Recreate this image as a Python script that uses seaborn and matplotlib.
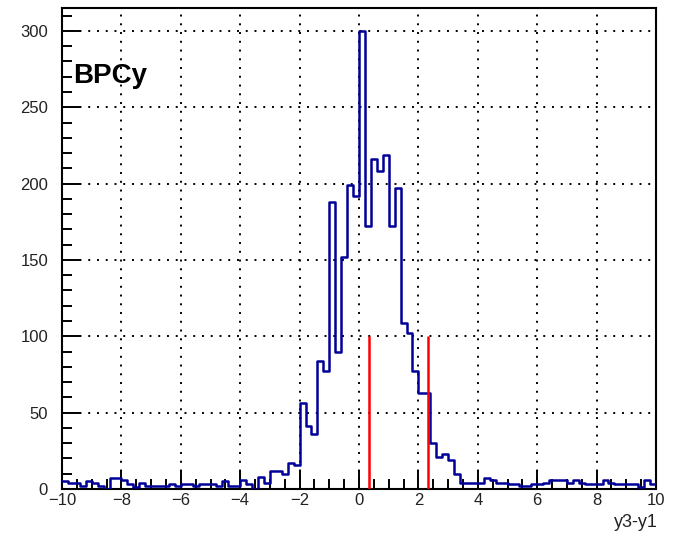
import numpy as np
import pandas as pd
import matplotlib
matplotlib.use("Agg")
import matplotlib.pyplot as plt
from matplotlib.ticker import MultipleLocator
import seaborn as sns

# Histogram of y3-y1: 100 bins of width 0.2 over [-10, 10]
bin_lo, bin_hi, n_bins = -10.0, 10.0, 100
counts = [
    5, 4, 4, 2, 5, 4, 2, 0, 7, 7,
    6, 3, 1, 4, 2, 2, 2, 2, 3, 2,
    3, 3, 2, 3, 3, 3, 2, 5, 2, 2,
    6, 3, 0, 8, 4, 12, 12, 10, 17, 16,
    56, 41, 36, 84, 77, 188, 90, 152, 199, 192,
    300, 172, 216, 208, 219, 172, 197, 109, 102, 77,
    63, 63, 30, 21, 23, 19, 10, 4, 4, 4,
    4, 7, 6, 4, 4, 3, 3, 2, 2, 3,
    3, 4, 6, 6, 6, 4, 6, 4, 3, 3,
    3, 6, 4, 3, 3, 3, 3, 1, 6, 3,
]
# Cut window markers
cut_positions = [0.33, 2.34]
cut_height = 100
panel_label = "BPCy"
x_title = "y3-y1"

edges = np.linspace(bin_lo, bin_hi, n_bins + 1)
centers = 0.5 * (edges[:-1] + edges[1:])
df = pd.DataFrame({"dy": centers, "n": counts})

sns.set_style("white")
plt.rcParams["font.family"] = ["Liberation Sans", "DejaVu Sans"]

fig = plt.figure(figsize=(6.84, 5.33), dpi=100)
ax = fig.add_axes([62 / 684, 1 - 489 / 533, 594 / 684, 481 / 533])

sns.histplot(data=df, x="dy", weights="n", bins=n_bins, binrange=(bin_lo, bin_hi),
             element="step", fill=False, color="#000099", linewidth=1.8, ax=ax, zorder=3)

ax.vlines(cut_positions, 0, cut_height, colors="#ff0000", linewidth=1.8, zorder=4)

ax.set_xlim(bin_lo, bin_hi)
ax.set_ylim(0, 1.05 * max(counts))

ax.xaxis.set_major_locator(MultipleLocator(2))
ax.xaxis.set_minor_locator(MultipleLocator(0.5))
ax.yaxis.set_major_locator(MultipleLocator(50))
ax.yaxis.set_minor_locator(MultipleLocator(10))

ax.grid(True, which="major", color="black", linestyle=(0, (1, 3.5)), linewidth=1.4, zorder=1)
ax.set_axisbelow(True)

ax.tick_params(axis="both", which="both", direction="in", width=1.4, color="black",
               bottom=True, left=True, top=False, right=False,
               labelsize=12, labelcolor="#222222")
ax.tick_params(axis="both", which="major", length=14)
ax.tick_params(axis="both", which="minor", length=7)
ax.tick_params(axis="x", which="major", pad=3)
ax.tick_params(axis="y", which="major", pad=10)

for s in ax.spines.values():
    s.set_visible(True)
    s.set_color("black")
    s.set_linewidth(1.5)

ax.set_xlabel("")
ax.set_ylabel("")
fig.text(658 / 684, 1 - 527 / 533, x_title, ha="right", va="baseline",
         fontsize=13, color="#222222")

ax.text(0.018, 0.845, panel_label, transform=ax.transAxes, fontsize=20,
        fontweight="bold", ha="left", va="baseline", color="black", zorder=2)

fig.savefig("out.png", dpi=100)
